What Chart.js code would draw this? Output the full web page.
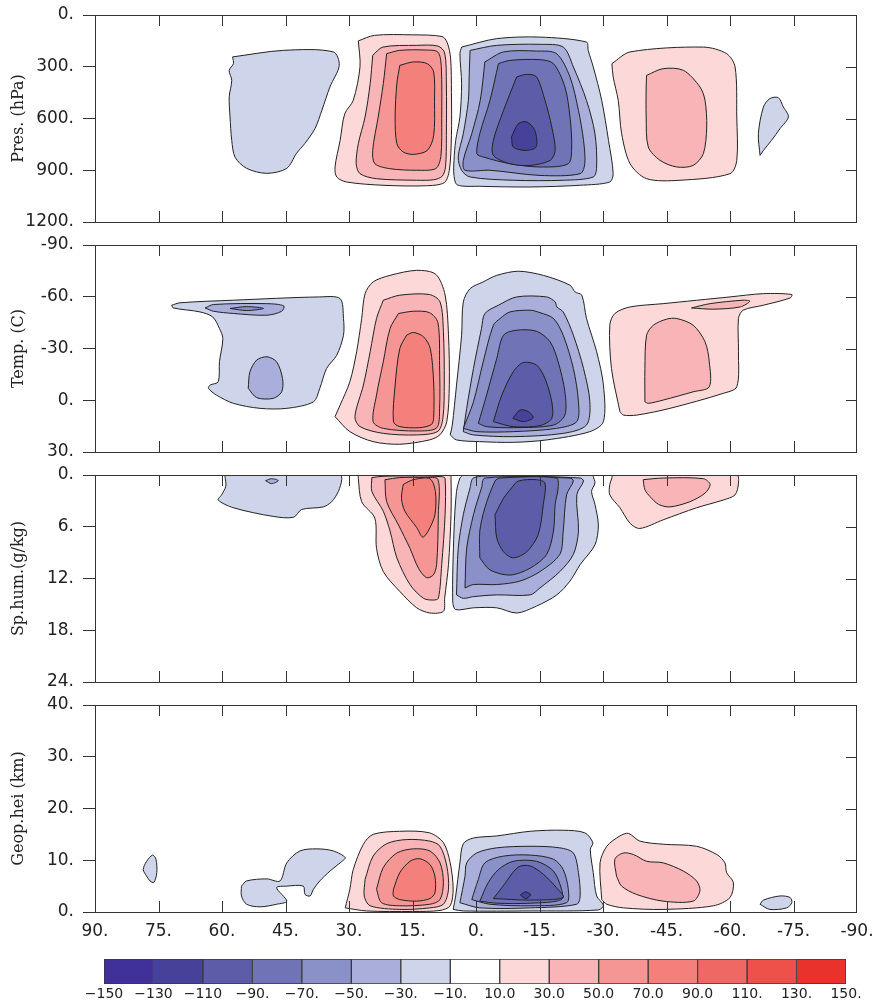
<!DOCTYPE html>
<html>
<head>
<meta charset="utf-8">
<script src="https://cdn.jsdelivr.net/npm/chart.js@4.4.0/dist/chart.umd.min.js"></script>
<style>
  body { margin: 0; background: #fff; width: 872px; height: 1002px; position: relative; overflow: hidden; }
  canvas { position: absolute; left: 0; }
</style>
</head>
<body>
<canvas id="pres" width="872" height="237" style="top:0px"></canvas>
<canvas id="temp" width="872" height="237" style="top:230px"></canvas>
<canvas id="hum" width="872" height="237" style="top:460px"></canvas>
<canvas id="geo" width="872" height="262" style="top:690px"></canvas>
<canvas id="bar" width="872" height="57" style="top:945px"></canvas>
<script>
// contour levels and colour bins (label bar)
const levels = [-150, -130, -110, -90, -70, -50, -30, -10, 10, 30, 50, 70, 90, 110, 130, 150];
const levelLabels = ['\u2212150', '\u2212130', '\u2212110', '\u221290.', '\u221270.', '\u221250.', '\u221230.', '\u221210.',
  '10.0', '30.0', '50.0', '70.0', '90.0', '110.', '130.', '150.'];
const binColors = ['#40309a', '#46429a', '#5c5ca8', '#7074b6', '#8a90c8', '#aaaeda', '#ced4ea', '#ffffff',
  '#fcd8d8', '#f8b4b6', '#f69694', '#f4807c', '#f06864', '#ee504a', '#ea322c'];

// axes
const latTicks = [90, 75, 60, 45, 30, 15, 0, -15, -30, -45, -60, -75, -90];
const latLabels = ['90.', '75.', '60.', '45.', '30.', '15.', '0.', '-15.', '-30.', '-45.', '-60.', '-75.', '-90.'];
const presTicks = [0, 300, 600, 900, 1200];
const presLabels = ['0.', '300.', '600.', '900.', '1200.'];
const tempTicks = [-90, -60, -30, 0, 30];
const tempLabels = ['-90.', '-60.', '-30.', '0.', '30.'];
const humTicks = [0, 6, 12, 18, 24];
const humLabels = ['0.', '6.', '12.', '18.', '24.'];
const geoTicks = [0, 10, 20, 30, 40];
const geoLabels = ['0.', '10.', '20.', '30.', '40.'];

// contours: [level, [[lat, value], ...]], outer before inner
const presShapes = [
  [-10, [[57.5,243],[45.5,205],[33.7,214],[32.3,292],[34.5,417],[36.4,552],[38,657],[40.4,744],[42.4,802],[44.7,889],[49.4,918],[54.2,889],[56.9,825],[57.7,727],[58.1,591],[58.3,475],[57.7,379],[58.3,321],[57.3,282]]],
  [10, [[27.8,150],[24,118],[15,115],[8,125],[6.8,160],[6,250],[5.8,450],[5.8,700],[6.3,900],[7.5,972],[12,990],[22,987],[30.6,968],[32.9,939],[33.3,881],[32.1,727],[31,572],[29,495],[27.4,300]]],
  [30, [[24.4,234],[22,186],[14,176],[9,180],[7.4,220],[7,400],[7,700],[7.2,880],[8,935],[10,955],[14,958],[23.5,949],[27.4,920],[28.3,862],[27.8,746],[26.2,591],[25,398]]],
  [50, [[21.1,224],[18,205],[12,203],[9,215],[8.2,300],[8.1,600],[8.3,820],[9.5,890],[14,900],[20.3,891],[23.9,862],[24.4,785],[23.1,591],[21.9,398]]],
  [70, [[18,292],[14.8,272],[11.5,282],[10,330],[9.8,500],[10,700],[11.5,785],[14.8,808],[17.2,794],[18.7,746],[19.1,591],[18.7,398]]],
  [-10, [[3.4,186],[-4.9,137],[-15.1,128],[-26.1,157],[-26.5,205],[-27.7,301],[-29.7,495],[-31.3,727],[-32.4,920],[-31.6,968],[-24.6,987],[-12.8,997],[-0.9,993],[4.4,985],[5.2,930],[5.2,843],[4.8,727],[3.8,591],[3.4,398],[3.8,224]]],
  [-30, [[1.4,205],[-4.9,176],[-15.1,170],[-20.6,186],[-23,301],[-26.1,495],[-28.1,688],[-28.5,881],[-27.7,939],[-20.6,958],[-8.8,958],[1.4,939],[3.4,900],[4.2,823],[3,688],[1.8,495],[1.6,340]]],
  [-50, [[-2.1,272],[-6.5,214],[-14.3,209],[-19,224],[-22.2,359],[-24.2,553],[-25.4,727],[-25.7,862],[-24.6,920],[-15.1,930],[-3.3,900],[2.6,900],[3,843],[1,688],[-1,495]]],
  [-70, [[-5.3,282],[-8,263],[-15.1,259],[-18.3,282],[-21,417],[-22.2,591],[-22.6,765],[-21.8,862],[-15.1,881],[-8,862],[-1.7,823],[-0.2,804],[-0.9,688],[-3.3,495]]],
  [-90, [[-9.6,359],[-12,344],[-14.3,359],[-16.3,495],[-17.9,649],[-18.7,785],[-17.5,843],[-12.8,872],[-8,862],[-4.1,813],[-4.1,727],[-6.5,553]]],
  [-110, [[-8.4,707],[-10,630],[-12,620],[-13.9,669],[-14.2,765],[-11.6,785],[-8.8,765]]],
  [10, [[-32.1,282],[-36.4,214],[-53.7,186],[-59.2,224],[-61.2,301],[-61.6,591],[-61.6,843],[-60,920],[-48.2,958],[-40.3,949],[-36.4,862],[-34.4,688],[-33.6,495],[-32.4,359]]],
  [30, [[-40.3,350],[-44.2,311],[-49,321],[-52.9,417],[-54.1,495],[-54.5,649],[-53.7,804],[-51.3,872],[-47.4,881],[-43.5,843],[-40.7,765],[-40.2,591],[-40.2,417]]],
  [-10, [[-67.1,814],[-66.7,688],[-67.9,533],[-69.4,485],[-71.4,479],[-72.6,533],[-73.8,591],[-71.8,659],[-69.8,727],[-67.9,785]]]
];

const tempShapes = [
  [-10, [[71.9,-55.1],[69.9,-56.5],[57.3,-58],[36.9,-59.9],[32.1,-58.9],[31.3,-47.4],[31.3,-37.7],[32.9,-26.1],[35.3,-18.4],[36.9,-6.9],[38.4,0.9],[44.7,4.7],[51,4.7],[57.3,1.8],[61.3,-3],[63.2,-6.9],[62.8,-8.8],[60.9,-10.7],[60.6,-22.3],[59.8,-35.8],[60.6,-41.6],[62.2,-48.3],[65.2,-51.2],[71.5,-53.5]]],
  [-30, [[64,-53.5],[62,-55.5],[49.4,-56],[45.4,-54.7],[45.9,-51.6],[49.4,-49.3],[57.3,-50.3],[62,-51.6]]],
  [-50, [[58.1,-53.2],[54.2,-54.3],[50.2,-53.2],[54.2,-52]]],
  [-30, [[53.8,-6.9],[53.4,-16.5],[51.8,-23.3],[49.4,-25.2],[47.1,-22.3],[45.7,-12.6],[45.9,-4.9],[47.9,-1.1],[51.8,-1.5]]],
  [10, [[33.3,9.5],[32.1,2.8],[29.8,-10.7],[28.2,-28.1],[27,-47.4],[26.2,-61.8],[24.3,-68.6],[20.3,-72.4],[14,-75.3],[9.5,-73],[7.3,-61],[6.5,-38],[6.3,-9],[6.9,12.4],[8.5,20],[11,23],[18,25.5],[24.3,24],[29.8,18.2]]],
  [30, [[21.9,-58],[18,-60.9],[11,-61.3],[8.5,-57],[7.7,-40],[7.5,-10],[7.8,10],[9,18],[14,20.1],[21.9,19.2],[27.4,15.3],[28.6,9.5],[26.6,-8.8],[25,-28.1],[23.5,-47.4]]],
  [50, [[18.3,-50.3],[14.8,-51.6],[11,-50.8],[9,-45],[8.6,-20],[8.6,5],[9.3,16],[14,17.8],[21.9,16.3],[24.3,12.4],[23.5,-3],[21.9,-22.3],[20.3,-41.6]]],
  [70, [[16.4,-37.7],[14.8,-39.3],[12.4,-36.8],[10.8,-30],[10,-10],[10,10],[10.5,14],[13.3,15.9],[18,15.3],[19.5,12.4],[19.1,-8.8],[18,-30]]],
  [-10, [[6.1,20.1],[5.6,14.4],[4.6,-8.8],[3.4,-37.7],[3,-57],[1.4,-64.7],[-1.7,-68.6],[-4.9,-72.4],[-10,-74.8],[-15.9,-72.4],[-22.2,-66.7],[-23.4,-62.8],[-25,-60.9],[-26.1,-47.4],[-28.5,-28.1],[-30.1,-8.8],[-30.1,12.4],[-26.9,18.2],[-16.7,23],[-8.8,24.4],[-0.9,24],[4.6,23]]],
  [-30, [[3,18.2],[2.2,4.7],[0.6,-18.4],[-1.3,-41.6],[-2.1,-50.3],[-5.3,-55.1],[-9.6,-59.9],[-16.7,-59.9],[-18.7,-57],[-19.1,-54.1],[-20.6,-51.2],[-23,-37.7],[-25.4,-18.4],[-26.9,0.9],[-26.1,14.4],[-20.6,19.2],[-8.8,21.1],[0.6,20.1]]],
  [-50, [[3,16.3],[0.6,0.9],[-1.7,-22.3],[-4.1,-43.5],[-5.7,-47.4],[-8,-51.2],[-12.8,-52.2],[-15.1,-50.8],[-18.3,-47.4],[-20.6,-37.7],[-23,-18.4],[-24.2,0.9],[-23.8,12.4],[-19,16.3],[-8.8,18.2],[-0.2,18.2]]],
  [-70, [[-0.55,13.4],[-2.5,-3],[-4.9,-24.2],[-6.5,-37.7],[-9.6,-40.6],[-14.3,-40],[-17.5,-33.9],[-19.4,-22.3],[-21,-4.9],[-21,8.6],[-18.3,14.4],[-8.8,15.9],[-2.5,15.3]]],
  [-90, [[-4.1,12.4],[-6.1,-3],[-8.8,-16.5],[-11.2,-21.9],[-14.3,-20.4],[-16.3,-12.6],[-17.9,0.9],[-17.9,10.5],[-15.1,14.7],[-8.8,15.3]]],
  [-110, [[-8.7,10.5],[-10.4,5.7],[-12.4,6.6],[-13.5,10.1],[-11.2,12.4]]],
  [10, [[-34,6.6],[-32,-18.4],[-31.6,-43.5],[-32.8,-50.3],[-36.4,-54.1],[-44.2,-56],[-60,-59.9],[-67.9,-61.8],[-74.6,-61.3],[-74.2,-59.3],[-67.9,-55.1],[-63.1,-52.2],[-62,-47.4],[-62,-28.1],[-61.6,-7.8],[-58.4,-4],[-45.8,4.7],[-38,8.6],[-34.8,8.6]]],
  [30, [[-39.9,0.9],[-39.9,-18.4],[-40.3,-37.7],[-41.9,-43.5],[-45,-47],[-47.4,-47.4],[-51.3,-43.5],[-54.1,-33.9],[-55.1,-22.3],[-55.1,-7.8],[-51.3,-4.9],[-44.2,-0.1],[-40.7,1.8]]],
  [30, [[-50.9,-53.5],[-55.3,-56],[-63.1,-58],[-64.7,-57.4],[-62.4,-54.1],[-56.1,-52.8]]]
];

const humShapes = [
  [-10, [[59.3,0.15],[58.9,0],[32.1,0],[31.7,0.5],[32.5,1.9],[34.1,3.1],[36.1,3.7],[41.2,4],[43.1,4.9],[47.9,4.8],[57.3,3.8],[60.9,2.9],[60.1,2.3],[59.1,1.3]]],
  [-30, [[49.7,0.66],[48.3,0.43],[46.7,0.66],[48.3,1.0]]],
  [10, [[27.8,0],[27.8,0.4],[27,3.1],[23.9,5],[23.5,8.5],[21.9,11.2],[18,13.5],[14,15.4],[10.9,16],[7.7,15.8],[7.4,14.3],[6.5,10.4],[5.9,4.6],[5.9,0.35],[6.1,0]]],
  [30, [[24.6,0.3],[22,0.15],[15,0.1],[8,0.2],[7.3,0.4],[7.3,4.6],[8.1,10.4],[8.9,14.3],[10.1,14.5],[12.4,14.3],[15.6,12.7],[18.7,9.6],[20.3,6.5],[21.9,4.2],[24.6,1.9]]],
  [50, [[21.5,0.55],[18,0.3],[12,0.3],[9,0.5],[8.9,4.6],[9.3,10.4],[10.1,11.6],[11.7,11.9],[13.6,10.8],[15.6,8.5],[18.3,5.8],[21.1,3.1]]],
  [70, [[17.2,1.1],[14.8,0.54],[10.9,0.43],[9.6,1.9],[9.7,4.6],[11.3,6.5],[12.6,7.2],[14,6.1],[16.8,4.2],[17.6,2.7]]],
  [-10, [[3.4,0.15],[3.5,0],[-27.7,0],[-27.7,0.15],[-28.1,0.93],[-27.3,1.9],[-28.1,3.4],[-28.9,5.8],[-28.1,8.1],[-24.6,10.4],[-22.2,12.3],[-19.1,13.9],[-14.3,15.2],[-9.6,16],[-4.9,15.4],[0.6,15.4],[4.8,15.6],[5.5,14.6],[5.2,6.5],[4.6,1.9],[3.8,0.35]]],
  [-30, [[4.6,13.9],[4.2,8.5],[3,4.6],[1.4,1.5],[0.6,0.35],[-5,0.1],[-24.6,0.35],[-25.4,0.7],[-23.8,2.3],[-24.2,6.5],[-23,9.2],[-19.8,11.2],[-15.1,13.1],[-12.8,13.9],[-4.9,13.9],[0.6,14.1],[3,14.3]]],
  [-50, [[2.6,13.1],[2.2,8.5],[0.6,4.6],[-1.3,1.5],[-2.1,0.35],[-22.2,0.35],[-23,0.7],[-21.4,2.3],[-20.6,6.5],[-19.8,9.2],[-15.1,11.2],[-10.4,12.3],[-4.9,12.7],[0.6,12.7]]],
  [-70, [[-0.9,9.6],[-0.9,6.5],[-2.1,3.8],[-4.5,0.7],[-5.7,0.35],[-19,0.35],[-19.4,1.5],[-18.7,3.4],[-18.3,6.5],[-16.7,9.2],[-12.8,10.8],[-8,11.6],[-3.3,11]]],
  [-90, [[-4.5,4.6],[-6.5,2.7],[-8.4,1.5],[-10,0.7],[-14.3,0.54],[-16.3,0.93],[-15.9,3.4],[-14.7,6.9],[-12,8.9],[-8.8,9.6],[-6.5,8.9],[-4.9,7.3]]],
  [10, [[-32.1,0.35],[-32.3,0],[-61.6,0],[-62,0.93],[-61.2,2.3],[-58.4,2.9],[-52.1,3.8],[-44.2,5.2],[-38.7,6.2],[-36.4,5.6],[-34,3.8],[-31.6,2.3],[-31.6,1.1]]],
  [30, [[-39.5,0.54],[-44.2,0.35],[-53.7,0.43],[-55.3,1.1],[-54.1,2.1],[-50.5,3.1],[-45.8,3.7],[-43.1,3.4],[-41.1,2.5],[-39.9,1.7]]]
];

const geoShapes = [
  [-10, [[77.8,6.9],[78.6,8.2],[77.8,9.8],[76.4,11],[75.6,10.2],[75.4,7.6],[76.1,5.7],[77,6]]],
  [-10, [[55.4,5],[54.2,6],[49.4,6.4],[46.3,6],[44.7,9.5],[41.6,11.8],[37.6,12.2],[33.7,11.8],[30.9,10.5],[32.1,9.5],[34.5,7.9],[36.9,6],[38.4,4.4],[39.2,3.1],[40.4,3.4],[40.8,5],[44.7,5],[47.1,4.7],[44.7,2.1],[47.1,1.5],[51,1],[54.2,1.5],[55.4,3.1]]],
  [10, [[30.9,0.8],[29.8,4.4],[29,8.2],[26.6,13.1],[24.3,15],[18,15.6],[11,15.3],[7.7,13.4],[6.1,9.5],[5.4,4.4],[6.1,1.2],[8.5,0.3],[15,0.1],[25.8,0.2]]],
  [30, [[26.2,6.3],[24.3,10.8],[21.1,13.2],[16.4,14],[10.9,13.7],[8.5,12.7],[6.9,8.9],[6.5,4.4],[7.7,1.5],[10.9,0.8],[18,0.5],[25,1.2],[26.4,3.1]]],
  [50, [[23.5,4.4],[21.9,8.6],[18.7,11.4],[14.8,12.2],[10.9,11.8],[8.5,9.5],[7.7,5.7],[8.5,2.4],[10.9,1.5],[18,1.2],[22.3,1.8]]],
  [70, [[19.5,4.4],[18,7.6],[15.6,9.8],[13.3,10.3],[10.9,9.2],[9.7,6.9],[9.7,3.7],[10.9,2.6],[14,2.1],[18,2.4],[19.5,3.1]]],
  [-10, [[5.4,0.5],[4.8,3.1],[3.8,9.5],[3,13.2],[0.6,14.3],[-4.9,14.7],[-12.8,15.6],[-20.6,15.8],[-25.7,15.3],[-27.6,13.4],[-27,12.1],[-27.7,7.6],[-28.5,3.1],[-30.1,1.3],[-28.9,0.4],[-12.8,0.2],[3,0.2]]],
  [-30, [[3.8,1.8],[2.6,6.9],[2.2,9.5],[-0.15,11.4],[-4.9,12.4],[-12.8,12.7],[-19.8,12.4],[-23,11.4],[-24.2,7.6],[-24.6,3.1],[-23.8,1.5],[-12.8,0.8],[-0.9,0.8]]],
  [-50, [[1,2.4],[-0.55,6.3],[-2.1,9.5],[-6.5,10.8],[-12.8,11],[-18.3,10.2],[-20.6,8.2],[-21.8,4.4],[-21.4,1.8],[-12.8,1.2],[-3.3,1.5]]],
  [-70, [[-0.9,2.1],[-2.9,5.7],[-5.3,8.2],[-8.8,9.8],[-14.3,9.8],[-18.3,7.9],[-20.2,4.4],[-20.2,2.4],[-12.8,1.7],[-4.9,1.7]]],
  [-90, [[-4.1,2.6],[-6.1,4.7],[-10,8.7],[-12.8,8.9],[-15.9,7.3],[-19,4.7],[-20.6,2.8],[-12.8,2.3]]],
  [-110, [[-10.5,3.3],[-11.7,3.9],[-12.9,3.3],[-11.7,2.6]]],
  [10, [[-29.7,2.4],[-29.3,9.5],[-30.9,12.7],[-34,14.7],[-36,15.2],[-38.7,13.7],[-44.2,13.1],[-52.1,12.7],[-56.9,11.1],[-58.8,9.5],[-59.2,7.6],[-60.8,5.7],[-60,2.8],[-56.1,1.2],[-44.2,0.5],[-34.8,0.8],[-30.9,1.5]]],
  [30, [[-33.2,6.9],[-32.8,10.2],[-34.8,11.4],[-37.2,11.1],[-40.3,9.8],[-44.2,9.5],[-49,7.9],[-52.1,6],[-52.9,4.1],[-51.3,2.1],[-44.2,2.1],[-37.9,3.4],[-34.4,5]]],
  [-10, [[-67.1,1.5],[-67.9,2.3],[-71.8,3.1],[-74.2,2.8],[-74.6,1.8],[-73.4,0.8],[-69.4,0.5]]]
];

const ink = '#222';
const tickFont = { family: 'DejaVu Sans', size: 17 };

function levelColor(lv) {
  const i = levels.indexOf(lv);
  return binColors[lv < 0 ? i - 1 : i];
}

// box round the plot plus inward tick marks on top, bottom and right
const framePlugin = {
  id: 'frame',
  afterDraw(chart) {
    const { ctx, chartArea: a, scales: { x, y } } = chart;
    ctx.save();
    ctx.strokeStyle = '#333';
    ctx.lineWidth = 1;
    ctx.strokeRect(a.left + 0.5, a.top + 0.5, a.right - a.left - 1, a.bottom - a.top);
    ctx.beginPath();
    latTicks.forEach(v => {
      const px = Math.round(x.getPixelForValue(v)) + 0.5;
      if (px < a.left + 2 || px > a.right - 2) return;
      ctx.moveTo(px, a.top); ctx.lineTo(px, a.top + 11);
      ctx.moveTo(px, a.bottom); ctx.lineTo(px, a.bottom - 11);
    });
    y.ticks.forEach(t => {
      const py = Math.round(y.getPixelForValue(t.value)) + 0.5;
      if (py < a.top + 2 || py > a.bottom - 2) return;
      ctx.moveTo(a.right, py); ctx.lineTo(a.right - 11, py);
    });
    ctx.stroke();
    ctx.restore();
  }
};

function panel(id, shapes, title, ticks, labels, reverse, showX) {
  const sets = shapes.map(s => ({
    data: s[1].concat([s[1][0]]).map(p => ({ x: p[0], y: p[1] })),
    backgroundColor: levelColor(s[0]),
    borderColor: ink,
    borderWidth: 1,
    fill: 'shape',
    tension: 0.3,
    pointRadius: 0,
    showLine: true
  })).reverse();

  return new Chart(document.getElementById(id), {
    type: 'scatter',
    data: { datasets: sets },
    options: {
      responsive: false,
      animation: false,
      events: [],
      layout: { padding: { top: 15, right: 15, bottom: showX ? 0 : 15, left: 0 } },
      plugins: { legend: { display: false }, tooltip: { enabled: false } },
      scales: {
        x: {
          type: 'linear', min: -90, max: 90, reverse: true,
          afterBuildTicks: s => { s.ticks = latTicks.map(v => ({ value: v })); },
          afterFit: s => { s.height = showX ? 40 : 0; s.paddingLeft = 0; s.paddingRight = 0; },
          grid: { display: false, drawTicks: false },
          border: { display: false },
          ticks: {
            display: showX, autoSkip: false, maxRotation: 0, padding: 9,
            font: tickFont, color: ink,
            callback: (v, i) => latLabels[i]
          }
        },
        y: {
          type: 'linear', min: ticks[0], max: ticks[ticks.length - 1], reverse: reverse,
          afterBuildTicks: s => { s.ticks = ticks.map(v => ({ value: v })); },
          afterFit: s => { s.width = 95; s.paddingTop = 0; s.paddingBottom = 0; },
          grid: { display: true, drawOnChartArea: false, drawTicks: true, tickLength: 12, color: '#333' },
          border: { display: false },
          ticks: {
            autoSkip: false, padding: 9, font: tickFont, color: ink,
            callback: (v, i) => labels[i]
          },
          title: {
            display: true, text: title, color: ink,
            font: { family: 'DejaVu Serif', size: 16 },
            padding: { top: 9, bottom: 0 }
          }
        }
      }
    },
    plugins: [framePlugin]
  });
}

panel('pres', presShapes, 'Pres. (hPa)', presTicks, presLabels, true, false);
panel('temp', tempShapes, 'Temp. (C)', tempTicks, tempLabels, true, false);
panel('hum', humShapes, 'Sp.hum.(g/kg)', humTicks, humLabels, true, false);
panel('geo', geoShapes, 'Geop.hei (km)', geoTicks, geoLabels, false, true);

// label bar
new Chart(document.getElementById('bar'), {
  type: 'bar',
  data: {
    labels: [''],
    datasets: binColors.map(c => ({
      data: [1], backgroundColor: c, borderColor: '#3a3a3a', borderWidth: 1,
      borderSkipped: false, barPercentage: 1, categoryPercentage: 1
    }))
  },
  options: {
    indexAxis: 'y',
    responsive: false,
    animation: false,
    events: [],
    layout: { padding: { top: 14, right: 26, bottom: 0, left: 104 } },
    plugins: { legend: { display: false }, tooltip: { enabled: false } },
    scales: {
      x: {
        stacked: true, min: 0, max: binColors.length,
        afterBuildTicks: s => { s.ticks = levels.map((v, i) => ({ value: i })); },
        afterFit: s => { s.height = 18; s.paddingLeft = 0; s.paddingRight = 0; },
        grid: { display: false, drawTicks: false },
        border: { display: false },
        ticks: {
          autoSkip: false, maxRotation: 0, padding: 2,
          font: { family: 'DejaVu Sans', size: 14 }, color: ink,
          callback: (v, i) => levelLabels[i]
        }
      },
      y: { stacked: true, display: false }
    }
  }
});
</script>
</body>
</html>
